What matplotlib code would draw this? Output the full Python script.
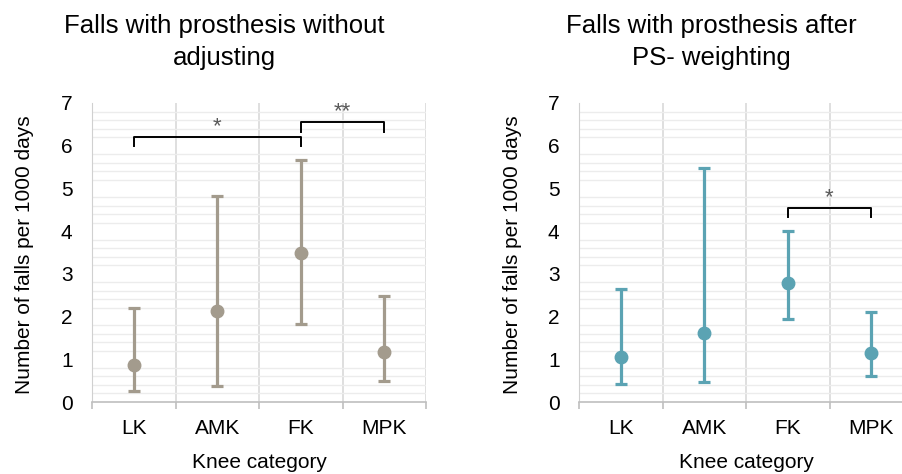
import numpy as np
import matplotlib.pyplot as plt

plt.rcParams['font.family'] = ['Liberation Sans', 'DejaVu Sans']

categories = ['LK', 'AMK', 'FK', 'MPK']

# without adjusting
raw_mean = [0.87, 2.13, 3.50, 1.18]
raw_low = [0.25, 0.38, 1.82, 0.50]
raw_high = [2.21, 4.82, 5.67, 2.47]

# after PS weighting
ps_mean = [1.06, 1.62, 2.79, 1.15]
ps_low = [0.43, 0.47, 1.95, 0.62]
ps_high = [2.65, 5.48, 4.00, 2.11]

# significance brackets: (i, j, top, leg, label)
raw_sig = [(0, 2, 6.21, 6.00, '*'), (2, 3, 6.56, 6.33, '**')]
ps_sig = [(2, 3, 4.54, 4.34, '*')]

W, H = 902, 474
fig = plt.figure(figsize=(W / 100, H / 100), dpi=100)


def draw_panel(left_px, mean, low, high, sig, color, title):
    ax = fig.add_axes([left_px / W, (H - 402) / H, 334 / W, 299 / H])
    x = np.arange(len(categories))
    mean = np.array(mean)
    yerr = [mean - np.array(low), np.array(high) - mean]
    ax.errorbar(x, mean, yerr=yerr, fmt='o', color=color, ecolor=color,
                markersize=9, elinewidth=2.3, capsize=4.5, capthick=2.3,
                zorder=3)

    ax.set_xlim(-0.5, 3.5)
    ax.set_ylim(0, 7)
    ax.set_xticks(x)
    ax.set_xticklabels(categories, fontsize=15)
    ax.set_xticks(np.arange(-0.5, 4, 1), minor=True)
    ax.set_yticks(range(8))
    ax.set_yticklabels([str(v) for v in range(8)], fontsize=15)
    ax.set_yticks(np.arange(0.2, 7.01, 0.2), minor=True)
    ax.tick_params(axis='x', which='major', length=0, pad=12)
    ax.tick_params(axis='x', which='minor', length=5, color='#bfbfbf', width=1.2)
    ax.tick_params(axis='y', which='both', length=0, pad=14)

    ax.grid(axis='y', which='minor', color='#ececec', linewidth=1)
    ax.grid(axis='x', which='minor', color='#d9d9d9', linewidth=1.2)
    for s in ['top', 'right']:
        ax.spines[s].set_visible(False)
    ax.spines['left'].set_color('#d0d0d0')
    ax.spines['bottom'].set_color('#bfbfbf')
    ax.spines['bottom'].set_linewidth(1.2)

    for i, j, top, leg, lab in sig:
        ax.plot([i, i, j, j], [leg, top, top, leg], color='black',
                linewidth=1.4, zorder=4, clip_on=False)
        ax.text((i + j) / 2, top + 0.0, lab, ha='center', va='bottom',
                fontsize=16, color='#595959')

    cx = left_px + 167
    fig.text((cx - 35) / W, 1 - 42 / H, title, ha='center', va='center',
             fontsize=18.5, linespacing=1.38)
    fig.text(cx / W, 1 - 462 / H, 'Knee category', ha='center',
             va='center', fontsize=15)
    fig.text((left_px - 67) / W, 1 - 255 / H, 'Number of falls per 1000 days',
             rotation=90, ha='center', va='center', fontsize=15)
    return ax


draw_panel(92, raw_mean, raw_low, raw_high, raw_sig, '#a39b8d',
           'Falls with prosthesis without\nadjusting')
draw_panel(579, ps_mean, ps_low, ps_high, ps_sig, '#5ba3b3',
           'Falls with prosthesis after\nPS- weighting')

fig.savefig('out.png', dpi=100)
